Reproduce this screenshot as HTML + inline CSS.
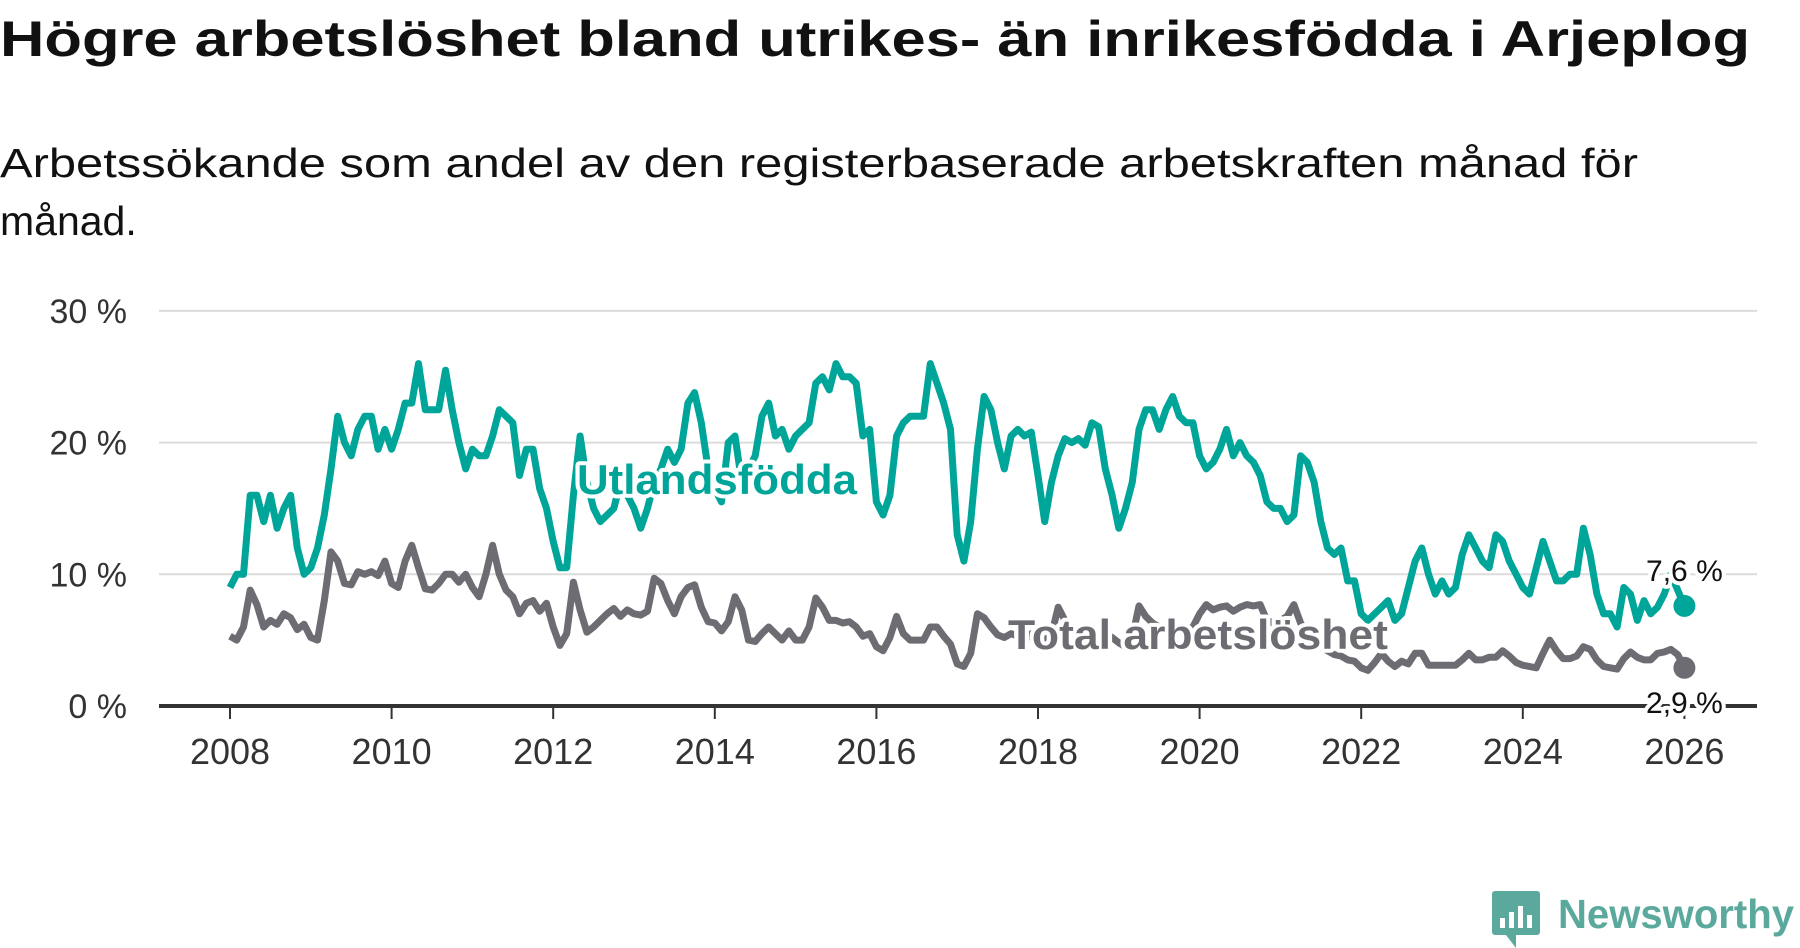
<!DOCTYPE html>
<html><head><meta charset="utf-8"><style>
html,body{margin:0;padding:0;background:#fff;}
svg{display:block;font-family:"Liberation Sans","DejaVu Sans",sans-serif;}
</style></head><body>
<svg id="chart" width="1800" height="948" viewBox="0 0 1800 948">
<text x="0" y="56" font-size="50" font-weight="bold" fill="#111" textLength="1750" lengthAdjust="spacingAndGlyphs">Högre arbetslöshet bland utrikes- än inrikesfödda i Arjeplog</text>
<text x="0" y="177" font-size="41" fill="#111" textLength="1638" lengthAdjust="spacingAndGlyphs">Arbetssökande som andel av den registerbaserade arbetskraften månad för</text>
<text x="0" y="235" font-size="41" fill="#111">månad.</text>
<g id="grid"></g>
<g id="series"></g>
<g id="labels"></g>
<g>
<rect x="1492" y="891" width="48" height="44" rx="3" fill="#5aa99c"/>
<path d="M1506 935 L1516 948 L1516 935 Z" fill="#5aa99c"/>
<rect x="1500" y="918" width="5" height="10" fill="#fff"/><rect x="1509" y="912" width="5" height="16" fill="#fff"/><rect x="1518" y="906" width="5" height="22" fill="#fff"/><rect x="1527" y="915" width="5" height="13" fill="#fff"/>
<text x="1558" y="928" font-size="41" font-weight="bold" fill="#5aa99c" textLength="236" lengthAdjust="spacingAndGlyphs">Newsworthy</text>
</g>
</svg>
<script>
const yTicks=[0,10,20,30];
const yTickLabels=["0 %","10 %","20 %","30 %"];
const xTicks=[2008,2010,2012,2014,2016,2018,2020,2022,2024,2026];
const startYear=2008;
const utlandsfodda=[
9,10,10,16,16,14,16,13.5,15,16,12,10,
10.5,12,14.5,18,22,20,19,21,22,22,19.5,21,
19.5,21,23,23,26,22.5,22.5,22.5,25.5,22.5,20,18,
19.5,19,19,20.5,22.5,22,21.5,17.5,19.5,19.5,16.5,15,
12.5,10.5,10.5,16,20.5,17,15,14,14.5,15,17,16,
15,13.5,15,17,18,19.5,18.5,19.5,23,23.8,21.5,18,
16.5,15.5,20,20.5,17,18,19,22,23,20.5,21,19.5,
20.5,21,21.5,24.5,25,24,26,25,25,24.5,20.5,21,
15.5,14.5,16,20.5,21.5,22,22,22,26,24.5,23,21,
13,11,14,19.5,23.5,22.5,20,18,20.5,21,20.5,20.8,
17.5,14,17,19,20.3,20,20.3,19.8,21.5,21.2,18,16,
13.5,15,17,21,22.5,22.5,21,22.5,23.5,22,21.5,21.5,
19,18,18.5,19.5,21,19,20,19,18.5,17.5,15.5,15,
15,14,14.5,19,18.5,17,14,12,11.5,12,9.5,9.5,
7,6.5,7,7.5,8,6.5,7,9,11,12,10,8.5,
9.5,8.5,9,11.5,13,12,11,10.5,13,12.5,11,10,
9,8.5,10.5,12.5,11,9.5,9.5,10,10,13.5,11.5,8.5,
7,7,6,9,8.5,6.5,8,7,7.5,8.5,10,8.8,
7.6];
const total=[
5.3,5,6,8.8,7.7,6,6.5,6.2,7,6.7,5.8,6.2,
5.2,5,8,11.7,11,9.3,9.2,10.2,10,10.2,9.9,11,
9.3,9,11,12.2,10.5,8.9,8.8,9.3,10,10,9.4,10,
9,8.3,10,12.2,10,8.8,8.3,7,7.8,8,7.2,7.8,
6,4.6,5.5,9.4,7.3,5.6,6,6.5,7,7.4,6.8,7.3,
7,6.9,7.2,9.7,9.3,8,7,8.3,9,9.2,7.5,6.4,
6.3,5.7,6.4,8.3,7.3,5,4.9,5.5,6,5.5,5,5.7,
5,5,6,8.2,7.5,6.5,6.5,6.3,6.4,6,5.3,5.5,
4.5,4.2,5.2,6.8,5.5,5,5,5,6,6,5.3,4.7,
3.2,3,4,7,6.7,6,5.4,5.2,5.5,5.3,5,5.5,
5.5,5,5.4,7.5,6.5,5.5,5.2,5.2,6,5.5,5.5,5.2,
4.8,4.5,5.2,7.6,6.8,6.3,6,6,6.2,6,5.8,6,
7,7.7,7.3,7.5,7.6,7.2,7.5,7.7,7.6,7.7,6.5,6.3,
6.5,6.8,7.7,6.3,5.5,4.8,4.5,4.2,3.9,3.8,3.5,3.4,
2.9,2.7,3.3,4,3.4,3,3.4,3.2,4,4,3.1,3.1,
3.1,3.1,3.1,3.5,4,3.5,3.5,3.7,3.7,4.2,3.8,3.3,
3.1,3,2.9,4,5,4.2,3.6,3.6,3.8,4.5,4.3,3.5,
3,2.9,2.8,3.6,4.1,3.7,3.5,3.5,4,4.1,4.3,3.9,
2.9];
const NS="http://www.w3.org/2000/svg";
function xs(t){return 230+(t-2008)*80.8;}
function ys(v){return 706-v*13.17;}
function el(tag,attrs,parent){const e=document.createElementNS(NS,tag);for(const k in attrs)e.setAttribute(k,attrs[k]);parent.appendChild(e);return e;}
const grid=document.getElementById('grid');
yTicks.forEach((v,i)=>{
  if(v>0){const l=el('line',{x1:159,x2:1757,y1:ys(v),y2:ys(v),stroke:'#dcdcdc','stroke-width':2},grid);
  
  }
  const t=el('text',{x:127,y:ys(v)+12,'font-size':34,fill:'#333','text-anchor':'end'},grid);
  t.textContent=yTickLabels[i];
  
  
});
xTicks.forEach(y=>{
  const tk=el('line',{x1:xs(y),x2:xs(y),y1:706,y2:719,stroke:'#333','stroke-width':2},grid);
  
  
  const t=el('text',{x:xs(y),y:764,'font-size':36,fill:'#333','text-anchor':'middle'},grid);
  t.textContent=y;
  
  
});
const series=document.getElementById('series');
function line(arr,color,name){
  const pts=arr.map((v,i)=>xs(startYear+i/12).toFixed(1)+','+ys(v).toFixed(1)).join(' ');
  const p=el('polyline',{points:pts,fill:'none',stroke:color,'stroke-width':7,'stroke-linejoin':'round'},series);
  
  
  const n=arr.length-1;
  const c=el('circle',{cx:xs(startYear+n/12),cy:ys(arr[n]),r:11,fill:color},series);
  
  
}
line(total,'#6d6c73','total-line');
line(utlandsfodda,'#00a599','utlandsfodda-line');
const ax=el('line',{x1:159,x2:1757,y1:706,y2:706,stroke:'#333','stroke-width':4},series);


const lab=document.getElementById('labels');
function txt(x,y,s,size,color,bold,name,anchor,len){
  const a={x:x,y:y,'font-size':size,fill:color,'font-weight':bold?'bold':'normal',stroke:'#fff','stroke-width':8,'paint-order':'stroke','stroke-linejoin':'round','text-anchor':anchor||'start'};
  if(len){a.textLength=len;a.lengthAdjust='spacingAndGlyphs';}
  const t=el('text',a,lab);
  t.textContent=s;
  
  
}
txt(577,494,'Utlandsfödda',42,'#00a599',true,'utlandsfodda-label','start',280);
txt(1008,649,'Total arbetslöshet',42,'#6d6c73',true,'total-label','start',380);
const nU=utlandsfodda.length-1,nT=total.length-1;
txt(xs(startYear+nU/12),ys(utlandsfodda[nU])-25,String(utlandsfodda[nU]).replace('.',',')+' %',30,'#111',false,'utlandsfodda-value-label','middle');
txt(xs(startYear+nT/12),ys(total[nT])+45,String(total[nT]).replace('.',',')+' %',30,'#111',false,'total-value-label','middle');
</script>
</body></html>
